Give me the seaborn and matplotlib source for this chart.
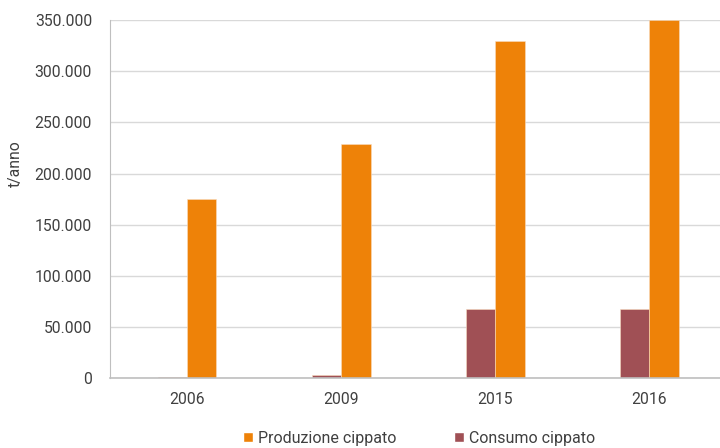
import matplotlib
matplotlib.use("Agg")
import matplotlib.pyplot as plt
import seaborn as sns
import pandas as pd
from matplotlib.patches import Patch
from matplotlib.ticker import FuncFormatter, FixedLocator

years = ["2006", "2009", "2015", "2016"]
produzione = [175000, 229000, 330000, 350000]
consumo = [1500, 3500, 68000, 68000]
series_names = ["Consumo cippato", "Produzione cippato"]
colors = {"Consumo cippato": "#A05055", "Produzione cippato": "#EE8208"}

df = pd.DataFrame({
    "anno": years * 2,
    "valore": consumo + produzione,
    "serie": [series_names[0]] * 4 + [series_names[1]] * 4,
})

sns.set_style("white")
plt.rcParams["font.family"] = ["Roboto", "DejaVu Sans"]

fig = plt.figure(figsize=(7.2, 4.48), dpi=100)
ax = fig.add_axes([0.153, 0.156, 0.856, 0.799])

sns.barplot(data=df, x="anno", y="valore", hue="serie", hue_order=series_names,
            order=years, palette=colors, saturation=1, width=0.38, gap=0, ax=ax,
            legend=False, edgecolor="#F8DCC0", linewidth=0.4)

ax.set_ylim(0, 350000)
ax.set_xlim(-0.5, 3.5)
ax.yaxis.set_major_locator(FixedLocator(range(0, 350001, 50000)))
ax.yaxis.set_major_formatter(FuncFormatter(lambda v, p: f"{int(v):,}".replace(",", ".")))
ax.grid(axis="y", color="#D9D9D9", linewidth=1)
ax.set_axisbelow(True)
for s in ["top", "right"]:
    ax.spines[s].set_visible(False)
ax.spines["left"].set_color("#BFBFBF")
ax.spines["bottom"].set_color("#BFBFBF")
ax.spines["bottom"].set_linewidth(1.2)
ax.tick_params(axis="y", labelsize=11.3, colors="#404040", length=0, pad=13)
ax.tick_params(axis="x", labelsize=11.3, colors="#404040", length=0, pad=10)
ax.set_xticks(range(4))
ax.set_xticks([0.5, 1.5, 2.5], minor=True)
ax.tick_params(axis="x", which="minor", direction="in", length=5, color="#BFBFBF")
ax.set_xlabel("")
ax.set_ylabel("t/anno", fontsize=11.3, color="#404040", va="center")
ax.yaxis.set_label_coords(-0.153, 0.60)

handles = [Patch(facecolor=colors["Produzione cippato"], label="Produzione cippato"),
           Patch(facecolor=colors["Consumo cippato"], label="Consumo cippato")]
fig.legend(handles=handles, loc="center", bbox_to_anchor=(0.582, 0.022), ncol=2,
           frameon=False, fontsize=11.5, handlelength=0.65, handleheight=0.65,
           handletextpad=0.3, columnspacing=3.6, labelcolor="#404040")

fig.savefig("out.png", dpi=100)
